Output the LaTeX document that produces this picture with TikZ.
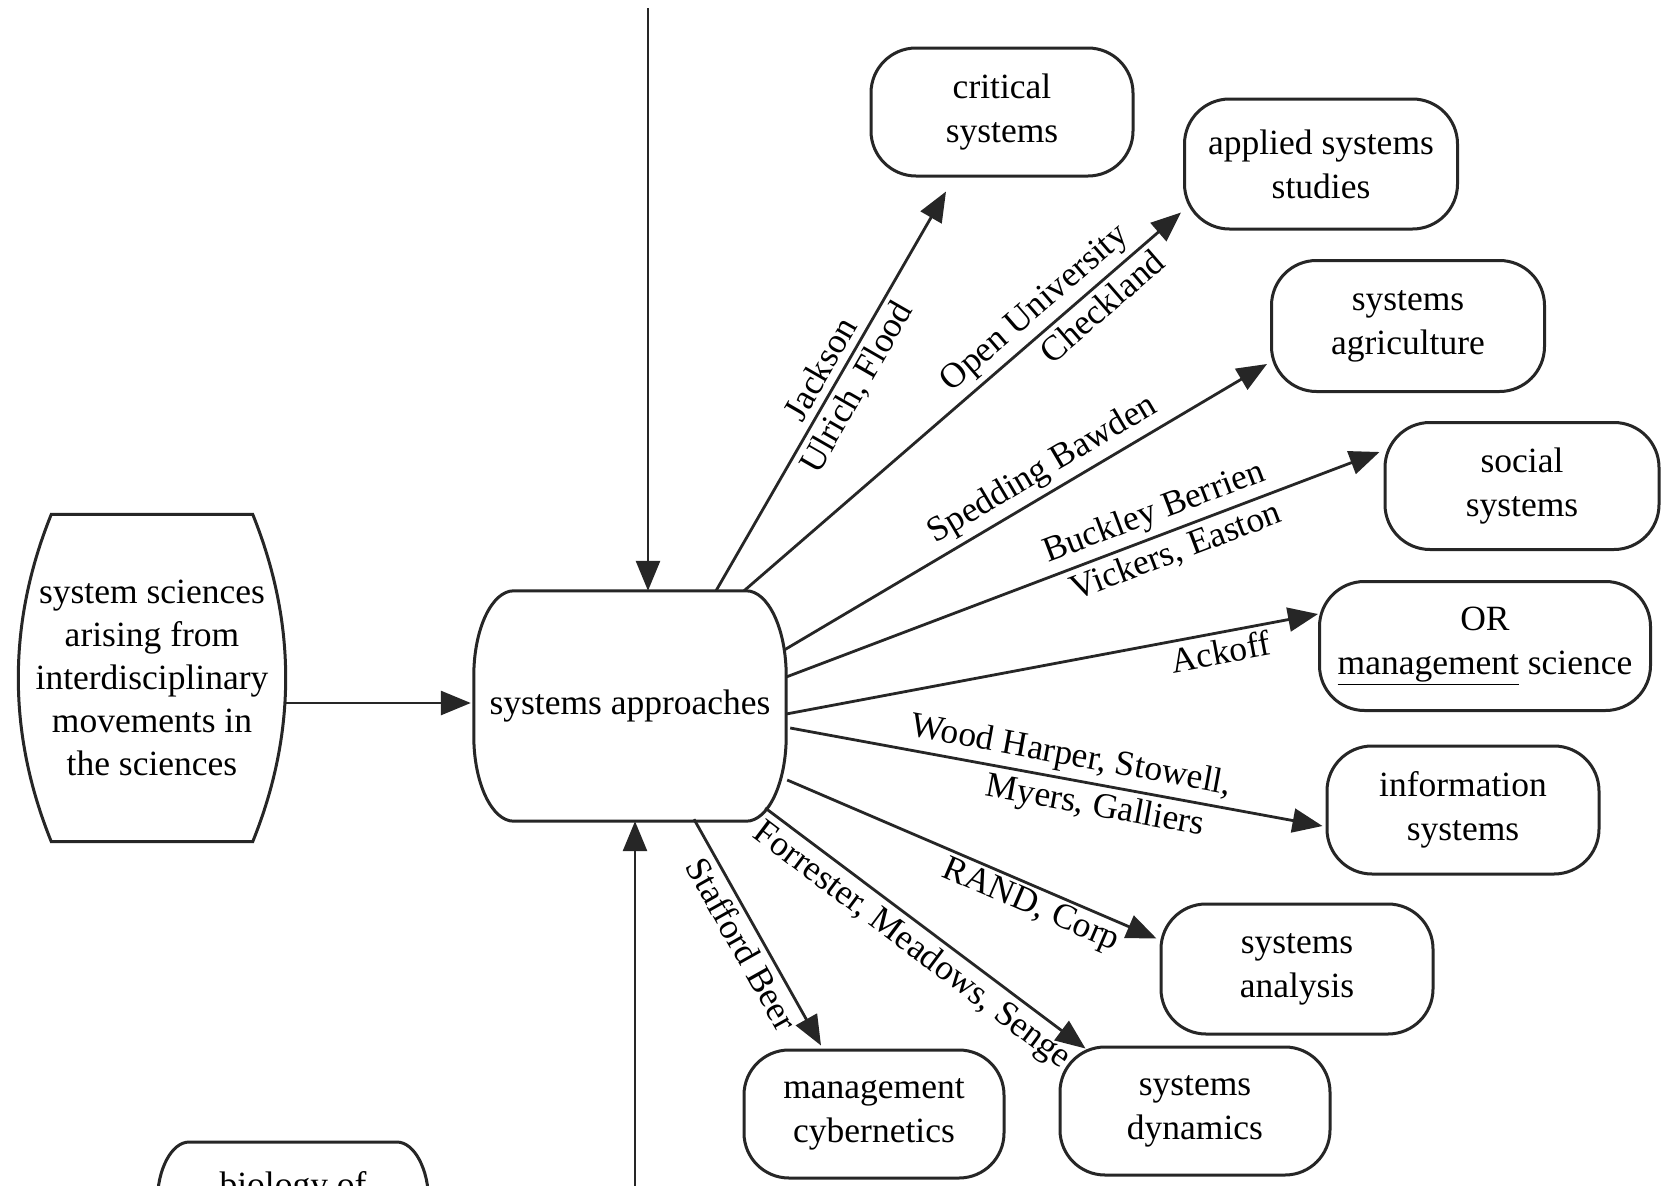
\documentclass[tikz,border=0pt]{standalone}
\usepackage{fontspec}
\setmainfont{Liberation Serif}
\usetikzlibrary{arrows.meta,calc}

\tikzset{
  ink/.style={draw=black!85, line width=3pt},
  hub/.style={rectangle, inner sep=0pt, align=center, font=\fontsize{35.5}{43}\selectfont},
  target/.style={ink, rectangle, rounded corners=45pt, inner sep=0pt, align=center,
    font=\fontsize{35.5}{44}\selectfont},
  link/.style={draw=black!85, line width=2.8pt, -{Triangle[length=30pt,width=24pt]}},
  who/.style={sloped, inner sep=2pt, font=\fontsize{35.5}{40}\selectfont},
}

% box with flat top and bottom and elliptic corners of radii #2 (across) and #3 (down)
\newcommand\barrelbox[3]{%
  \draw[ink] let \p1=(#1.north west), \p2=(#1.south east) in
    (\x1+#2,\y1) -- (\x2-#2,\y1)
    .. controls (\x2-0.45*#2,\y1) and (\x2,\y1-0.45*#3) .. (\x2,\y1-#3)
    -- (\x2,\y2+#3)
    .. controls (\x2,\y2+0.45*#3) and (\x2-0.45*#2,\y2) .. (\x2-#2,\y2)
    -- (\x1+#2,\y2)
    .. controls (\x1+0.45*#2,\y2) and (\x1,\y2+0.45*#3) .. (\x1,\y2+#3)
    -- (\x1,\y1-#3)
    .. controls (\x1,\y1-0.45*#3) and (\x1+0.45*#2,\y1) .. cycle;}

% box with flat top and bottom and parabolic sides; #2 = bulge, #3 = sixth of the height
\newcommand\bulgebox[3]{%
  \draw[ink] let \p1=(#1.north west), \p2=(#1.south east) in
    (\x1+#2,\y1) -- (\x2-#2,\y1)
    .. controls (\x2-#2/3,\y1-#3) and (\x2,\y1-2*#3) .. (\x2,\y1-3*#3)
    .. controls (\x2,\y2+2*#3) and (\x2-#2/3,\y2+#3) .. (\x2-#2,\y2)
    -- (\x1+#2,\y2)
    .. controls (\x1+#2/3,\y2+#3) and (\x1,\y2+2*#3) .. (\x1,\y2+3*#3)
    .. controls (\x1,\y1-2*#3) and (\x1+#2/3,\y1-#3) .. cycle;}

\begin{document}
\begin{tikzpicture}[x=1pt, y=-1pt]
\useasboundingbox (0,0) rectangle (1671,1186);
\fill[white] (0,0) rectangle (1671,1186);

% central box and the two sources feeding it
\node[hub, minimum width=312pt, minimum height=230pt] (appr) at (630,706) {systems approaches};
\barrelbox{appr}{40pt}{85pt}

\node[hub, minimum width=267pt, minimum height=327pt] (sci) at (152,678)
  {system sciences\\arising from\\interdisciplinary\\movements in\\the sciences};
\bulgebox{sci}{33pt}{54.5pt}

\node[hub, minimum width=271pt, minimum height=330pt, anchor=north] (bio) at (293,1142) {};
\barrelbox{bio}{32pt}{60pt}
\node[hub, anchor=base] (biotext) at (293,1196) {biology of};

\coordinate (topin) at (648,8);
\coordinate (botin) at (635,1190);

% application areas
\node[target, minimum width=262pt, minimum height=128pt] (crit) at (1002,112) {critical\\systems};
\node[target, minimum width=273pt, minimum height=130pt] (asst) at (1321,164) {applied systems\\studies};
\node[target, minimum width=273pt, minimum height=131pt] (agri) at (1408,326) {systems\\agriculture};
\node[target, minimum width=274pt, minimum height=127pt] (soc)  at (1522,486) {social\\systems};
\node[target, minimum width=331pt, minimum height=129pt] (orms) at (1485,646) {OR\\\underline{management} science};
\node[target, minimum width=272pt, minimum height=128pt] (info) at (1463,810) {information\\systems};
\node[target, minimum width=272pt, minimum height=130pt] (sana) at (1297,969) {systems\\analysis};
\node[target, minimum width=270pt, minimum height=128pt] (sdyn) at (1195,1111) {systems\\dynamics};
\node[target, minimum width=260pt, minimum height=128pt] (mcyb) at (874,1114) {management\\cybernetics};

% incoming arrows
\draw[link] (topin) -- ($(appr.north)+(18,0)$);
\draw[link] (botin) -- ($(appr.south)+(5,0)$);
\draw[link] ($(sci.east)+(0,25)$) -- ($(appr.west)+(-3,-3)$);

% outgoing arrows with their authors
\draw[link] ($(appr.north)+(86,0)$) -- ($(crit.south)+(-56,14)$)
  node[who, pos=0.53, above=5pt] {Jackson}
  node[who, pos=0.535, below=3pt] {Ulrich, Flood};
\draw[link] ($(appr.north)+(114,0)$) -- ($(asst.south west)+(-2,-18)$)
  node[who, pos=0.70, above=3pt] {Open University}
  node[who, pos=0.79, below=3pt] {Checkland};
\draw[link] ($(appr.east)+(-2,-56)$) -- ($(agri.south west)+(-3,-29)$)
  node[who, pos=0.56, above=3pt] {Spedding Bawden};
\draw[link] ($(appr.east)+(0,-29)$) -- ($(soc.north west)+(-4,31)$)
  node[who, pos=0.634, above=3pt] {Buckley Berrien}
  node[who, pos=0.644, below=3pt] {Vickers, Easton};
\draw[link] ($(appr.east)+(0,8)$) -- ($(orms.north west)+(0,34)$)
  node[who, pos=0.81, below=3pt] {Ackoff};
\draw[link] ($(appr.east)+(4,22)$) -- ($(info.west)+(-3,16)$)
  node[who, pos=0.52, above=3pt] {Wood Harper, Stowell,}
  node[who, pos=0.58, below=3pt] {Myers, Galliers};
\draw[link] ($(appr.east)+(1,74)$) -- ($(sana.north west)+(-3,36)$)
  node[who, pos=0.68, below=1pt] {RAND, Corp};
\draw[link] ($(appr.east)+(-21,102)$) -- ($(sdyn.north west)+(27,3)$)
  node[who, pos=0.50, below=3pt] {Forrester, Meadows, Senge};
\draw[link] ($(appr.south)+(64,-2)$) -- ($(mcyb.north)+(-53,-3)$)
  node[who, pos=0.51, below=3pt] {Stafford Beer};
\end{tikzpicture}
\end{document}
